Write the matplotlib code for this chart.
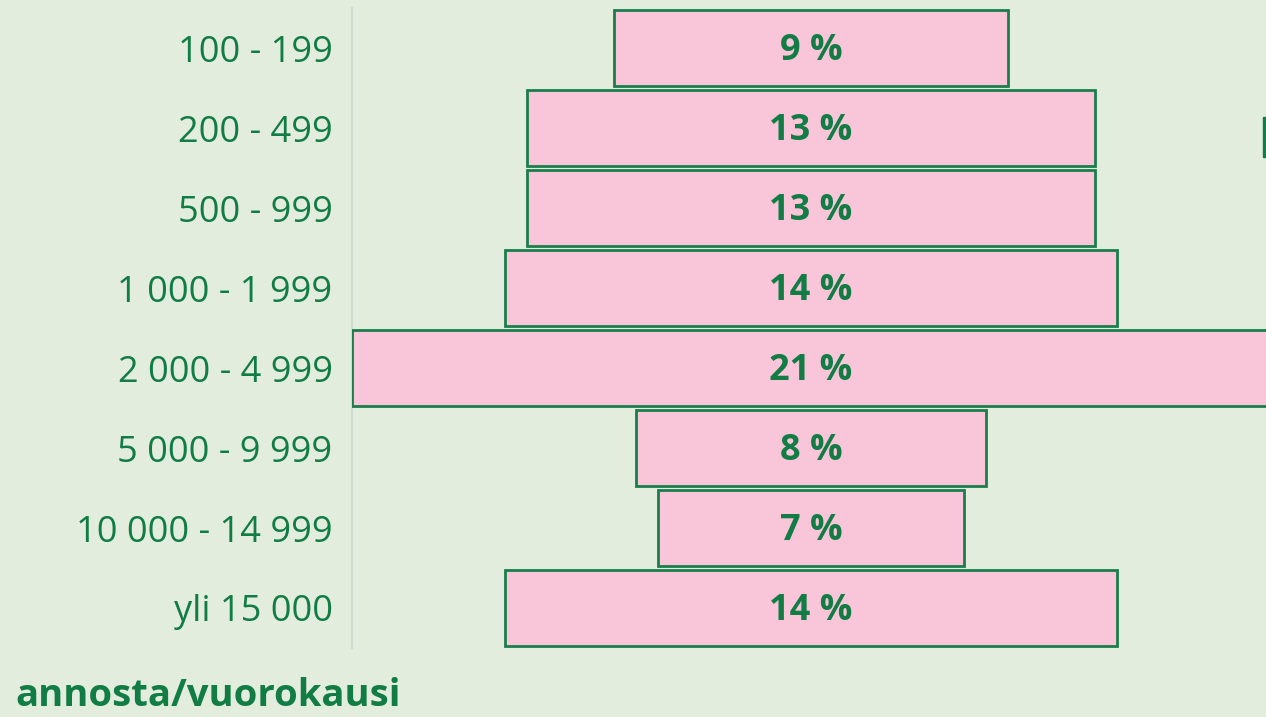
import matplotlib
matplotlib.use("Agg")
import matplotlib.pyplot as plt
from matplotlib.patches import Rectangle

categories = ["100 - 199", "200 - 499", "500 - 999", "1 000 - 1 999",
              "2 000 - 4 999", "5 000 - 9 999", "10 000 - 14 999", "yli 15 000"]
values = [9, 13, 13, 14, 21, 8, 7, 14]
value_labels = ["9 %", "13 %", "13 %", "14 %", "21 %", "8 %", "7 %", "14 %"]
x_title = "annosta/vuorokausi"

BG = "#e3eddd"
PINK = "#f9c6d9"
EDGE = "#1a7d4c"
TXT = "#127c45"

W, H = 1266, 717
fig = plt.figure(figsize=(W / 100, H / 100), dpi=100, facecolor=BG)
ax_left, ax_right, ax_top, ax_bot = 352, 1270, 8, 648
ax = fig.add_axes([ax_left / W, 1 - ax_bot / H, (ax_right - ax_left) / W, (ax_bot - ax_top) / H])
ax.set_facecolor(BG)

ypos = list(range(len(categories)))
lefts = [-v / 2 for v in values]
ax.barh(ypos, values, left=lefts, height=0.95, color=PINK, edgecolor=EDGE, linewidth=2, zorder=2)
for y, lab in zip(ypos, value_labels):
    ax.text(0, y + 0.04, lab, ha="center", va="center", fontsize=26,
            fontweight="bold", color=TXT, family=["Open Sans", "DejaVu Sans"], zorder=3)

ax.set_xlim(-10.5, 10.5)
ax.set_ylim(len(categories) - 0.5, -0.5)
ax.set_yticks(ypos)
ax.set_yticklabels(categories, fontsize=26, color=TXT, family=["Open Sans", "DejaVu Sans"])
ax.tick_params(axis="y", length=0, pad=14)
ax.set_xticks([])
for s in ["top", "right", "bottom"]:
    ax.spines[s].set_visible(False)
ax.spines["left"].set_color("#d4d9d2")
ax.spines["left"].set_linewidth(1.5)
ax.spines["left"].set_zorder(1)

fig.text(15 / W, 1 - 706 / H, x_title, ha="left", va="baseline", fontsize=27.5,
         fontweight="bold", color=TXT, family=["Open Sans", "DejaVu Sans"])

# cropped element at right edge
fig.patches.append(Rectangle((1263 / W, 1 - 157 / H), 4 / W, 40 / H,
                             transform=fig.transFigure, color="#137a48"))

fig.savefig("out.png", dpi=100, facecolor=BG)
